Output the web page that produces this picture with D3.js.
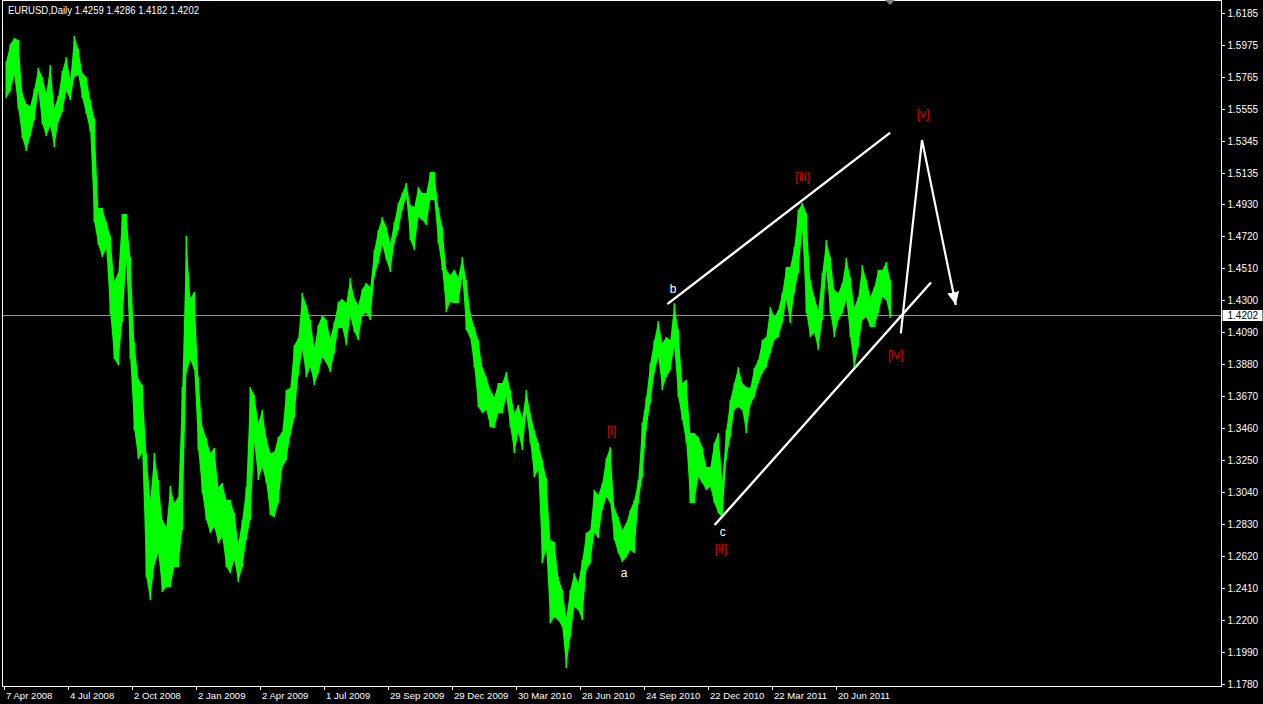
<!DOCTYPE html>
<html><head><meta charset="utf-8">
<script src="https://cdn.jsdelivr.net/npm/d3@7"></script>
<style>body{margin:0;background:#000;overflow:hidden} svg{display:block}</style>
</head><body>
<svg id="c" width="1263" height="704"></svg>
<script>
// ---- data: EURUSD daily, aggregated high/low per 4 trading days
const barsPerColumn = 4;
const highs = [
1.5868,1.5980,1.6019,1.6006,1.5658,1.5586,1.5573,1.5685,1.5823,1.5763,
1.5658,1.5842,1.5560,1.5639,1.5803,1.5895,1.5750,1.6033,1.5947,1.5790,
1.5763,1.5613,1.5494,1.4904,1.4904,1.4812,1.4720,1.4425,1.4477,1.4864,
1.4864,1.4582,1.4024,1.3782,1.3742,1.3296,1.2987,1.3296,1.3119,1.2856,
1.2810,1.3079,1.2968,1.3007,1.3729,1.4720,1.4313,1.4353,1.3795,1.3467,
1.3394,1.3296,1.3329,1.3073,1.3099,1.2987,1.2987,1.2902,1.2705,1.2856,
1.3073,1.3729,1.3677,1.3493,1.3578,1.3394,1.3296,1.3303,1.3401,1.3434,
1.3709,1.3723,1.4005,1.4051,1.4346,1.4267,1.4169,1.3992,1.4136,1.4202,
1.4169,1.4051,1.4156,1.4287,1.4307,1.4280,1.4444,1.4313,1.4267,1.4372,
1.4412,1.4385,1.4628,1.4759,1.4845,1.4779,1.4674,1.4812,1.4937,1.5002,
1.5068,1.4923,1.4910,1.5042,1.5002,1.5002,1.5140,1.5140,1.4910,1.4779,
1.4497,1.4464,1.4497,1.4451,1.4582,1.4431,1.4215,1.4123,1.4037,1.3860,
1.3795,1.3709,1.3663,1.3755,1.3755,1.3827,1.3709,1.3558,1.3611,1.3526,
1.3709,1.3558,1.3447,1.3362,1.3250,1.3132,1.2725,1.2712,1.2482,1.2397,
1.2220,1.2397,1.2508,1.2443,1.2594,1.2771,1.2791,1.3053,1.3020,1.3099,
1.3263,1.3335,1.2935,1.2876,1.2791,1.2837,1.2922,1.2987,1.3119,1.3493,
1.3663,1.3887,1.4037,1.4162,1.4018,1.4057,1.4037,1.4280,1.4103,1.3755,
1.3775,1.3427,1.3427,1.3401,1.3335,1.3204,1.3204,1.3362,1.3427,1.3119,
1.3447,1.3644,1.3755,1.3860,1.3755,1.3729,1.3723,1.3854,1.3906,1.4037,
1.4057,1.4254,1.4188,1.4234,1.4346,1.4517,1.4517,1.4648,1.4891,1.4937,
1.4871,1.4431,1.4320,1.4234,1.4477,1.4694,1.4582,1.4366,1.4346,1.4412,
1.4576,1.4451,1.4254,1.4320,1.4530,1.4431,1.4320,1.4385,1.4497,1.4497,
1.4549,1.4431];
const lows = [
1.5626,1.5672,1.5777,1.5553,1.5363,1.5278,1.5376,1.5481,1.5672,1.5455,
1.5376,1.5442,1.5304,1.5468,1.5534,1.5672,1.5613,1.5763,1.5777,1.5626,
1.5521,1.5403,1.4812,1.4661,1.4582,1.4635,1.4208,1.3913,1.3873,1.4156,
1.4556,1.3913,1.3447,1.3257,1.3296,1.2482,1.2331,1.2561,1.2640,1.2384,
1.2417,1.2417,1.2548,1.2548,1.2791,1.3821,1.3906,1.3841,1.3316,1.3033,
1.2856,1.2771,1.2810,1.2705,1.2745,1.2548,1.2508,1.2594,1.2449,1.2548,
1.2725,1.2856,1.3362,1.3119,1.3204,1.3099,1.2889,1.2876,1.2968,1.3204,
1.3250,1.3414,1.3526,1.3808,1.3972,1.3795,1.3860,1.3742,1.3821,1.3926,
1.3887,1.3827,1.3952,1.4116,1.4116,1.4005,1.4188,1.4090,1.4037,1.4202,
1.4215,1.4169,1.4451,1.4543,1.4661,1.4562,1.4484,1.4674,1.4759,1.4891,
1.4976,1.4694,1.4628,1.4845,1.4825,1.4792,1.4956,1.4956,1.4674,1.4497,
1.4221,1.4287,1.4280,1.4280,1.4451,1.4103,1.4051,1.3860,1.3598,1.3558,
1.3578,1.3467,1.3460,1.3558,1.3558,1.3663,1.3467,1.3296,1.3427,1.3316,
1.3558,1.3362,1.3138,1.3184,1.2574,1.2659,1.2180,1.2220,1.2200,1.2154,
1.1885,1.2088,1.2285,1.2266,1.2200,1.2528,1.2574,1.2771,1.2738,1.2922,
1.3007,1.2968,1.2725,1.2640,1.2581,1.2613,1.2659,1.2640,1.2968,1.3138,
1.3447,1.3624,1.3821,1.3926,1.3709,1.3795,1.3841,1.3992,1.3663,1.3512,
1.3362,1.2968,1.2968,1.3138,1.3099,1.3053,1.3073,1.2968,1.2902,1.2869,
1.3250,1.3401,1.3578,1.3598,1.3578,1.3427,1.3611,1.3663,1.3755,1.3821,
1.3860,1.3952,1.4037,1.4057,1.4149,1.4300,1.4149,1.4346,1.4477,1.4759,
1.4215,1.4057,1.4083,1.3972,1.4169,1.4497,1.4215,1.4057,1.4169,1.4215,
1.4300,1.4057,1.3854,1.3992,1.4169,1.4188,1.4123,1.4123,1.4215,1.4320,
1.4300,1.4182];

const priceTicks = [1.6185,1.5975,1.5765,1.5555,1.5345,1.5135,1.4930,1.4720,1.4510,1.4300,1.4090,1.3880,1.3670,1.3460,1.3250,1.3040,1.2830,1.2620,1.2410,1.2200,1.1990,1.1780];
const dateLabels = ["7 Apr 2008","4 Jul 2008","2 Oct 2008","2 Jan 2009","2 Apr 2009","1 Jul 2009","29 Sep 2009","29 Dec 2009","30 Mar 2010","28 Jun 2010","24 Sep 2010","22 Dec 2010","22 Mar 2011","20 Jun 2011"];
const barsPerDateLabel = 64;
const titleText = "EURUSD,Daily  1.4259 1.4286 1.4182 1.4202";
const lastPrice = 1.4202;

// wave annotations, in (bar index, price)
const channelLines = [
  {i0: 664, p0: 1.4278, i1: 885, p1: 1.5394},
  {i0: 711, p0: 1.2828, i1: 926, p1: 1.4410}
];
const projection = [[896.5, 1.4081],[917.7, 1.5350],[951.5, 1.4267]];
const waveLabels = [
  {t: "[i]",   i: 607.4, p: 1.3440, c: "red"},
  {t: "a",     i: 619.7, p: 1.2510, c: "white"},
  {t: "b",     i: 668.7, p: 1.4372, c: "white"},
  {t: "c",     i: 718.4, p: 1.2777, c: "white"},
  {t: "[ii]",  i: 716.7, p: 1.2666, c: "red"},
  {t: "[iii]", i: 798.4, p: 1.5107, c: "red"},
  {t: "[iv]",  i: 891.4, p: 1.3939, c: "red"},
  {t: "[v]",   i: 918.7, p: 1.5521, c: "red"}
];

// ---- layout
const W = 1263, H = 704;
const plotL = 2.5, plotR = 1221.5, plotT = 0.5, plotB = 686.5;
const svg = d3.select("#c");
svg.append("rect").attr("width", W).attr("height", H).attr("fill", "#000");

const x = d3.scaleLinear().domain([0, 1]).range([4.3, 5.3]); // 1 px per daily bar
const y = d3.scaleLinear().domain([1.1780, 1.6185]).range([684, 12.8]);

const font = "'Liberation Sans', Arial, sans-serif";
const RED = "#e00000";

// price band: high/low envelope of the bars
const cols = highs.map((h, j) => ({h, l: lows[j], i: j * barsPerColumn + barsPerColumn / 2}));
const band = d3.area()
  .x(d => x(d.i))
  .y0(d => y(d.l))
  .y1(d => y(d.h))
  .curve(d3.curveLinear);
svg.append("path").datum(cols).attr("d", band).attr("fill", "#00ff00");
// thin bar strokes at each sample so narrow spikes keep their full range
svg.append("g").selectAll("line").data(cols).join("line")
  .attr("x1", d => x(d.i)).attr("x2", d => x(d.i))
  .attr("y1", d => y(d.h)).attr("y2", d => y(d.l))
  .attr("stroke", "#00ff00").attr("stroke-width", 1.6);

// current price line
svg.append("line").attr("x1", plotL).attr("x2", plotR)
  .attr("y1", Math.round(y(lastPrice)) + 0.5).attr("y2", Math.round(y(lastPrice)) + 0.5)
  .attr("stroke", "#8c96a3").attr("stroke-width", 1);

// channel lines
const ann = svg.append("g");
channelLines.forEach(l => {
  ann.append("line")
    .attr("x1", x(l.i0)).attr("y1", y(l.p0)).attr("x2", x(l.i1)).attr("y2", y(l.p1))
    .attr("stroke", "#fff").attr("stroke-width", 2.4).attr("stroke-linecap", "round");
});
const defs = svg.append("defs");
defs.append("marker").attr("id", "ah").attr("markerUnits", "userSpaceOnUse")
  .attr("markerWidth", 14).attr("markerHeight", 12).attr("refX", 13).attr("refY", 6)
  .attr("orient", "auto")
  .append("path").attr("d", "M0,0 L13,6 L0,12 Z").attr("fill", "#fff");
ann.append("path")
  .attr("d", d3.line().x(d => x(d[0])).y(d => y(d[1]))(projection))
  .attr("fill", "none").attr("stroke", "#fff").attr("stroke-width", 2.2)
  .attr("stroke-linejoin", "miter").attr("marker-end", "url(#ah)");

ann.selectAll("text").data(waveLabels).join("text")
  .attr("x", d => x(d.i)).attr("y", d => y(d.p))
  .attr("text-anchor", "middle").attr("dominant-baseline", "central")
  .attr("font-family", font).attr("font-size", 12)
  .attr("fill", d => d.c === "red" ? RED : "#fff")
  .text(d => d.t);

// frame
svg.append("rect").attr("x", plotL).attr("y", plotT)
  .attr("width", plotR - plotL).attr("height", plotB - plotT)
  .attr("fill", "none").attr("stroke", "#fff").attr("stroke-width", 1);

// shift marker
svg.append("path").attr("d", "M885,0 L895,0 L890,5 Z").attr("fill", "#808080");

// title
svg.append("text").attr("x", 8).attr("y", 13.5).attr("fill", "#fff")
  .attr("font-family", font).attr("font-size", 11.5)
  .attr("textLength", 191).attr("lengthAdjust", "spacingAndGlyphs").text(titleText);

// right price axis
const ra = svg.append("g");
priceTicks.forEach(v => {
  const yy = Math.round(y(v)) + 0.5;
  ra.append("line").attr("x1", plotR).attr("x2", plotR + 3.5).attr("y1", yy).attr("y2", yy)
    .attr("stroke", "#fff");
  ra.append("text").attr("x", plotR + 6).attr("y", yy + 3.5).attr("fill", "#fff")
    .attr("font-family", font).attr("font-size", 10).text(v.toFixed(4));
});
const ly = Math.round(y(lastPrice)) + 0.5;
ra.append("rect").attr("x", plotR + 1).attr("y", ly - 5.5).attr("width", 40).attr("height", 11).attr("fill", "#fff");
ra.append("text").attr("x", plotR + 6).attr("y", ly + 3.5).attr("fill", "#000")
  .attr("font-family", font).attr("font-size", 10).text(lastPrice.toFixed(4));

// bottom date axis
const ba = svg.append("g");
dateLabels.forEach((t, k) => {
  const xx = Math.round(x(k * barsPerDateLabel)) + 0.5;
  ba.append("line").attr("x1", xx).attr("x2", xx).attr("y1", plotB).attr("y2", plotB + 3.5)
    .attr("stroke", "#fff");
  ba.append("text").attr("x", xx + 1.5).attr("y", 699).attr("fill", "#fff")
    .attr("font-family", font).attr("font-size", 9.6).text(t);
});
</script>
</body></html>
